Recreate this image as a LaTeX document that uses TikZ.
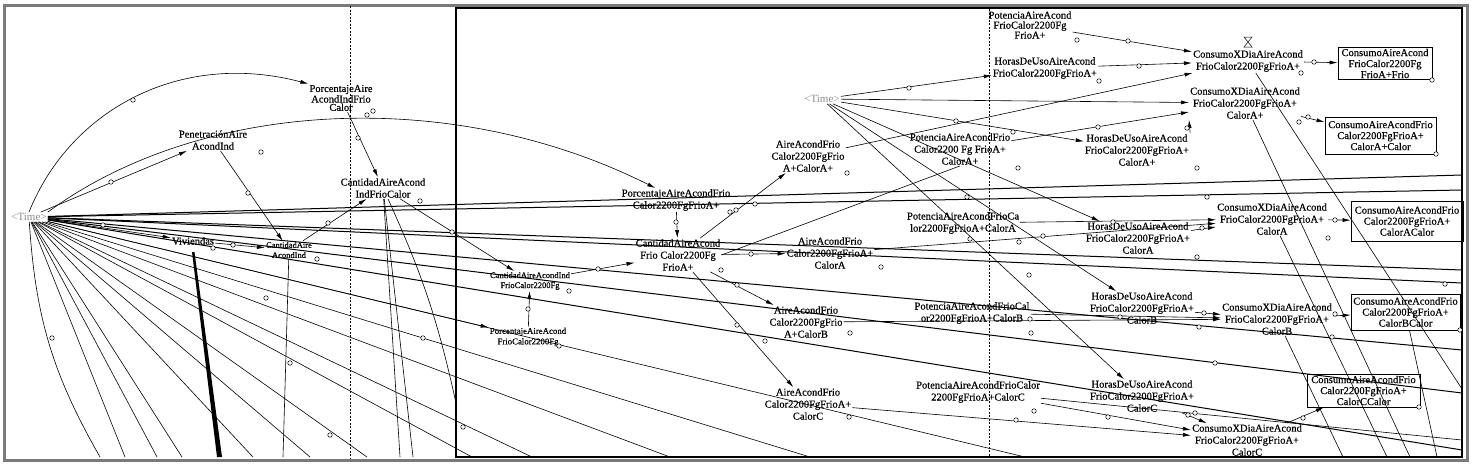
\documentclass[tikz,border=0pt]{standalone}
\usepackage{fontspec}
\setmainfont{Liberation Serif}
\newfontfamily\dfont{Liberation Serif}[FakeBold=0.4]
\usetikzlibrary{arrows.meta,positioning}
\definecolor{timegray}{HTML}{8C8C8C}
\definecolor{framegray}{HTML}{7A7A7A}
\newcommand{\vf}{\dfont\fontsize{10.5}{12}\selectfont}
\newcommand{\vsm}{\dfont\fontsize{8.5}{10}\selectfont}
\newcommand{\tm}{\textless Time\textgreater}

\begin{document}
\begin{tikzpicture}[x=1pt,y=-1pt,
  var/.style={align=center,font=\vf,inner sep=1pt},
  varsm/.style={align=center,font=\vsm,inner sep=1pt},
  tvar/.style={font=\fontsize{11}{12}\selectfont,text=timegray,inner sep=1pt},
  lvl/.style={draw,line width=0.8pt,align=center,font=\dfont\fontsize{10.5}{11}\selectfont,inner sep=1pt},
  lnk/.style={line width=0.6pt,-{Latex[length=8pt,width=4pt]}},
  ln/.style={line width=0.6pt},
  lnb/.style={line width=1pt},
  hdl/.style={circle,draw,fill=white,inner sep=0pt,minimum size=4.5pt,line width=0.5pt},
  dots/.style={dash pattern=on 2pt off 1.5pt,line width=0.6pt},
]
  \useasboundingbox (0,0) rectangle (1472,467);
  \fill[white] (0,0) rectangle (1472,467);

  % ---------------- marcos ----------------
  \draw[framegray,line width=3pt] (4,5) rectangle (1467,460);
  \draw[line width=2.5pt] (456,8) rectangle (1462,457);
  \draw[dots] (350,6) -- (350,459);
  \draw[dots] (989,9) -- (989,456);

  % ---------------- panel izquierdo ----------------
  \node[tvar] (t1) at (29,217) {\tm};
  \node[var,font=\dfont\fontsize{10.5}{6.5}\selectfont] (pai) at (341,98) {PorcentajeAire\\AcondIndFrio\\Calor};
  \node[var] (pen) at (213,140) {PenetraciónAire\\AcondInd};
  \node[var] (cai) at (383,188) {CantidadAireAcond\\IndFrioCalor};
  \node[var] (viv) at (193,241) {Viviendas};
  \node[varsm] (caa) at (289,250) {CantidadAire\\AcondInd};

  % ---------------- panel derecho ----------------
  \node[tvar] (t2) at (822,99) {\tm};
  \node[var] (paf) at (676,200) {PorcentajeAireAcondFrio\\Calor2200FgFrioA+};
  \node[var] (caf) at (678,255) {CantidadAireAcond\\Frio Calor2200Fg\\FrioA+};
  \node[varsm] (cid) at (530,281) {CantidadAireAcondInd\\FrioCalor2200Fg};
  \node[varsm,font=\dfont\fontsize{8.8}{10.5}\selectfont] (pac) at (528,337) {PorcentajeAireAcond\\FrioCalor2200Fg};
  \node[var] (aa1) at (808,156) {AireAcondFrio\\Calor2200FgFrio\\A+CalorA+};
  \node[var] (aa2) at (830,253) {AireAcondFrio\\Calor2200FgFrioA+\\CalorA};
  \node[var] (aa3) at (806,322) {AireAcondFrio\\Calor2200FgFrio\\A+CalorB};
  \node[var] (aa4) at (808,404) {AireAcondFrio\\Calor2200FgFrioA+\\CalorC};
  \node[var,font=\dfont\fontsize{10.5}{10}\selectfont] (po0) at (1030,25) {PotenciaAireAcond\\FrioCalor2200Fg\\FrioA+};
  \node[var] (hu0) at (1045,68) {HorasDeUsoAireAcond\\FrioCalor2200FgFrioA+};
  \node[var] (po1) at (960,149) {PotenciaAireAcondFrio\\Calor2200 Fg FrioA+\\CalorA+};
  \node[var] (hu1) at (1137,150) {HorasDeUsoAireAcond\\FrioCalor2200FgFrioA+\\CalorA+};
  \node[var] (po2) at (963,223) {PotenciaAireAcondFrioCa\\lor2200FgFrioA+CalorA};
  \node[var] (hu2) at (1138,238) {HorasDeUsoAireAcond\\FrioCalor2200FgFrioA+\\CalorA};
  \node[var] (po3) at (972,313) {PotenciaAireAcondFrioCal\\or2200FgFrioA+CalorB};
  \node[var] (hu3) at (1142,308) {HorasDeUsoAireAcond\\FrioCalor2200FgFrioA+\\CalorB};
  \node[var] (po4) at (978,392) {PotenciaAireAcondFrioCalor\\2200FgFrioA+CalorC};
  \node[var] (hu4) at (1142,396) {HorasDeUsoAireAcond\\FrioCalor2200FgFrioA+\\CalorC};
  \node[var] (cx0) at (1248,61) {ConsumoXDiaAireAcond\\FrioCalor2200FgFrioA+};
  \node[var] (cx1) at (1245,103) {ConsumoXDiaAireAcond\\FrioCalor2200FgFrioA+\\CalorA+};
  \node[var] (cx2) at (1272,219) {ConsumoXDiaAireAcond\\FrioCalor2200FgFrioA+\\CalorA};
  \node[var] (cx3) at (1277,319) {ConsumoXDiaAireAcond\\FrioCalor2200FgFrioA+\\CalorB};
  \node[var] (cx4) at (1247,440) {ConsumoXDiaAireAcond\\FrioCalor2200FgFrioA+\\CalorC};
  \node[lvl,minimum width=94,minimum height=31] (cs0) at (1385,63.5) {ConsumoAireAcond\\FrioCalor2200Fg\\FrioA+Frio};
  \node[lvl,minimum width=111,minimum height=37] (cs1) at (1380.5,135.5) {ConsumoAireAcondFrio\\Calor2200FgFrioA+\\CalorA+Calor};
  \node[lvl,minimum width=112,minimum height=40] (cs2) at (1407,221) {ConsumoAireAcondFrio\\Calor2200FgFrioA+\\CalorACalor};
  \node[lvl,minimum width=109,minimum height=36] (cs3) at (1405.5,312) {ConsumoAireAcondFrio\\Calor2200FgFrioA+\\CalorBCalor};
  \node[lvl,minimum width=113,minimum height=33] (cs4) at (1363.5,390.5) {ConsumoAireAcondFrio\\Calor2200FgFrioA+\\CalorCCalor};
  % reloj de arena
  \draw[line width=0.5pt] (1244,37) -- (1252,37) -- (1244,47) -- (1252,47) -- cycle;

  % ---------------- abanico de Time ----------------
  \coordinate (fb0) at (100,457);
  \draw[ln] (t1) to[bend right=13] (fb0);
  \foreach \x [count=\i] in {125,157,182,253,310,367,472,532,670,810,1025}{
    \coordinate (fb\i) at (\x,457);
    \draw[ln] (t1) -- (fb\i);
  }
  \foreach \y [count=\i] in {175,190,270,283,350,393,450}{
    \coordinate (fr\i) at (1462,\y);
    \draw[lnb] (t1) -- (fr\i);
  }

  % ---------------- enlaces izquierda ----------------
  \draw[lnk] (t1.north) .. controls (70,110) and (180,50) .. (pai.north west);
  \draw[lnk] (t1) -- (pen);
  \draw[lnk] (t1.north east) .. controls (200,100) and (450,85) .. (paf.150);
  \draw[lnk] (pai) -- (cai);
  \draw[lnk] (pen) -- (caa);
  \draw[lnk] (caa) -- (cai);
  \draw[lnk] (t1) -- (viv);
  \draw[lnk] (viv) -- (caa);
  \draw[lnk] (cai) -- (cid);
  \fill (192,252) -- (194.5,252) -- (222,457) -- (217,457) -- cycle;
  \coordinate (cb0) at (283,457);
  \draw[ln] (caa) -- (cb0);
  \coordinate (cb1) at (413,457);
  \coordinate (cb2) at (400,457);
  \coordinate (cb3) at (456,403);
  \draw[ln] (cai) -- (cb1);
  \draw[ln] (cai) -- (cb2);
  \draw[ln] (cai) to[bend left=6] (cb3);

  % ---------------- enlaces derecha ----------------
  \draw[lnk] (paf) -- (caf);
  \draw[lnk] (cid) -- (caf);
  \draw[lnk] (pac) -- (cid);
  \draw[lnk] (t1) -- (pac);
  \draw[lnk] (caf) -- (aa1);
  \draw[lnk] (caf) -- (aa2);
  \draw[lnk] (caf) -- (aa3);
  \draw[lnk] (caf) -- (aa4);
  \draw[ln] (caf.east) -- (po1.south);
  \draw[lnk] (t2) -- (hu0);
  \draw[lnk] (t2) -- (hu1);
  \draw[lnk] (t2) -- (hu2);
  \draw[lnk] (t2) -- (hu3);
  \draw[lnk] (t2) -- (hu4);
  \draw[lnk] (po0) -- (cx0);
  \draw[lnk] (hu0) -- (cx0);
  \draw[lnk] (aa1) -- (cx0);
  \draw[lnk] (t2) -- (cx1);
  \draw[lnk] (po1) -- (cx1);
  \draw[lnk] (hu1.north east) -- (cx1.south west);
  \draw[lnk] (po2) -- (cx2);
  \draw[lnk] (hu2) -- (cx2);
  \draw[lnk] (aa2) -- (cx2);
  \draw[lnk] (po3) -- (cx3);
  \draw[lnk] (hu3) -- (cx3);
  \draw[lnk] (aa3) -- (cx3);
  \draw[lnk] (po4) -- (cx4);
  \draw[lnk] (hu4) -- (cx4);
  \draw[lnk] (aa4) -- (cx4);
  \draw[lnk] (cx0) -- (cs0);
  \draw[lnk] (cx1) -- (cs1);
  \draw[lnk] (cx2) -- (cs2);
  \draw[lnk] (cx3) -- (cs3);
  \draw[lnk] (cx4) -- (cs4);
  \coordinate (dc1) at (1462,389);
  \coordinate (dc2) at (1410,457);
  \coordinate (dc3) at (1387,457);
  \coordinate (dc4) at (1343,457);
  \coordinate (dc5) at (1437,457);
  \coordinate (dc6) at (1462,440);
  \draw[ln] (cx0) -- (dc1);
  \draw[ln] (cx1) -- (dc2);
  \draw[ln] (cx2) -- (dc3);
  \draw[ln] (cx3) -- (dc4);
  \draw[ln] (cs3) -- (dc5);
  \draw[ln] (po4) -- (dc6);

  % ---------------- asas ----------------
  \foreach \p [count=\i] in {(133,100),(111,182),(248,193),(358,138),(367,115),(373,111),(261,152),(420,201),(328,223),(452,232),(103,225),(233,245),(213,248),(317,259),(266,298),(290,363),(52,338),(423,338),(330,435),
    (847,173),(736,210),(730,212),(755,204),(676,222),(569,291),(598,269),(528,309),(559,346),(751,254),(721,270),(737,285),(737,325),(765,341),(463,427),
    (1077,40),(1128,41),(1139,66),(1099,81),(909,88),(956,121),(1013,132),(1098,127),(1018,168),(967,197),
    (970,239),(1019,242),(1043,236),(1113,222),(881,267),(1029,275),(1030,319),(1031,333),(1120,317),(850,333),(1034,411),(1016,420),(1108,417),(849,417),
    (1314,62),(1301,73),(1432,80),(1308,117),(1299,122),(1187,128),(1436,154),(1197,168),(1207,197),(1335,220),(1202,228),(1328,238),(1197,257),
    (1445,284),(1204,313),(1199,327),(1335,314),(1332,337),(1460,330),(1215,363),(1419,407),(1303,418),(1188,415),(1195,413)}
    \node[hdl] (h\i) at \p {};
\end{tikzpicture}
\end{document}
